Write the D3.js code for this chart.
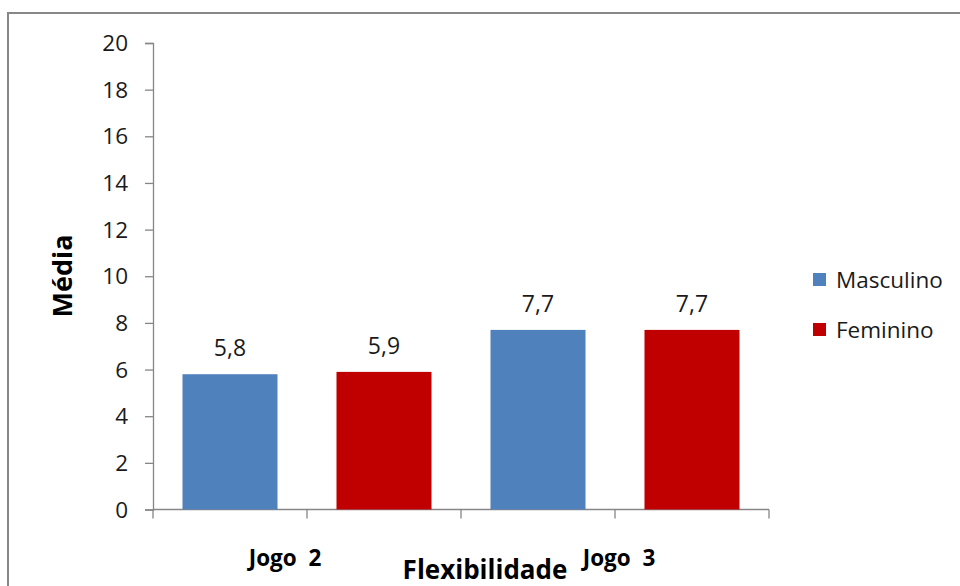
<!DOCTYPE html>
<html><head><meta charset="utf-8">
<script src="https://cdn.jsdelivr.net/npm/d3@7"></script>
<style>body{margin:0;background:#fff}svg{display:block}text{font-family:"Open Sans",sans-serif}</style>
</head><body><svg id="c" width="960" height="586"></svg>
<script>
const categories = ["Jogo 2", "Jogo 3"];
const seriesNames = ["Masculino", "Feminino"];
const masculino = [5.8, 7.7];
const feminino = [5.9, 7.7];
const valueLabels = [["5,8", "5,9"], ["7,7", "7,7"]];
const yTicks = [0, 2, 4, 6, 8, 10, 12, 14, 16, 18, 20];
const colors = ["#4F81BD", "#C00000"];
const yTitle = "Média";
const xTitle = "Flexibilidade";

(function () {
const svg = d3.select("#c");
svg.append("rect").attr("x", 8).attr("y", 13).attr("width", 1000).attr("height", 700)
  .attr("fill", "#fff").attr("stroke", "#878787").attr("stroke-width", 2);

const pL = 153, pR = 769, pT = 43, pB = 509.5;
const values = [masculino, feminino];
const slots = [];
categories.forEach((c, ci) => seriesNames.forEach((s, si) => slots.push({c, ci, s, si, v: values[si][ci], label: valueLabels[ci][si]})));
const slotKeys = slots.map(d => d.c + "|" + d.s);

const x = d3.scaleBand().domain(slotKeys).range([pL, pR]).paddingInner(0).paddingOuter(0);
const y = d3.scaleLinear().domain([0, 20]).range([pB, pT]);

const ya = svg.append("g").attr("transform", `translate(${pL},0)`)
  .call(d3.axisLeft(y).tickValues(yTicks).tickSize(8).tickPadding(17).tickFormat(d3.format("d")));
ya.select(".domain").attr("stroke", "#868686").attr("stroke-width", 1.3);
ya.selectAll(".tick line").attr("stroke", "#868686").attr("stroke-width", 1.3);
ya.selectAll(".tick text").attr("font-size", 22.5).attr("fill", "#1a1a1a").attr("font-family", "'Open Sans',sans-serif").attr("dy", "0.34em");

const bounds = slotKeys.map(k => x(k)).concat([pR]);
const xa = svg.append("g");
xa.append("line").attr("x1", pL).attr("x2", pR).attr("y1", pB).attr("y2", pB)
  .attr("stroke", "#868686").attr("stroke-width", 1.3);
xa.selectAll("line.t").data(bounds).join("line").attr("class", "t")
  .attr("x1", d => d).attr("x2", d => d).attr("y1", pB).attr("y2", pB + 9)
  .attr("stroke", "#868686").attr("stroke-width", 1.3);

const bw = x.bandwidth() * 0.617;
svg.selectAll("rect.bar").data(slots).join("rect").attr("class", "bar")
  .attr("x", d => x(d.c + "|" + d.s) + (x.bandwidth() - bw) / 2)
  .attr("width", bw)
  .attr("y", d => y(d.v))
  .attr("height", d => y(0) - y(d.v))
  .attr("fill", d => colors[d.si]);

svg.selectAll("text.val").data(slots).join("text").attr("class", "val")
  .attr("x", d => x(d.c + "|" + d.s) + x.bandwidth() / 2)
  .attr("y", d => y(d.v) - 18)
  .attr("text-anchor", "middle").attr("font-size", 23).attr("fill", "#1a1a1a")
  .text(d => d.label);

const catOffsets = [-22, 4];
svg.selectAll("text.cat").data(categories).join("text").attr("class", "cat")
  .attr("x", (d, i) => x(d + "|" + seriesNames[1]) + catOffsets[i])
  .attr("y", 566).attr("text-anchor", "middle").attr("font-size", 22.5).attr("font-weight", "bold")
  .attr("fill", "#000").text(d => d.replace(" ", "\u00a0\u00a0"));

svg.append("text").attr("x", 485).attr("y", 579).attr("text-anchor", "middle")
  .attr("font-size", 26).attr("font-weight", "bold").attr("fill", "#000").text(xTitle);
svg.append("text").attr("transform", `translate(72,276) rotate(-90)`)
  .attr("text-anchor", "middle").attr("font-size", 27).attr("font-weight", "bold").attr("fill", "#000").text(yTitle);

const lg = svg.append("g").selectAll("g").data(seriesNames).join("g")
  .attr("transform", (d, i) => `translate(813,${273 + i * 50})`);
lg.append("rect").attr("width", 13).attr("height", 13).attr("fill", (d, i) => colors[i]);
lg.append("text").attr("x", 23).attr("y", 14.5).attr("font-size", 22.5).attr("fill", "#1a1a1a").text(d => d);
})();
</script></body></html>
